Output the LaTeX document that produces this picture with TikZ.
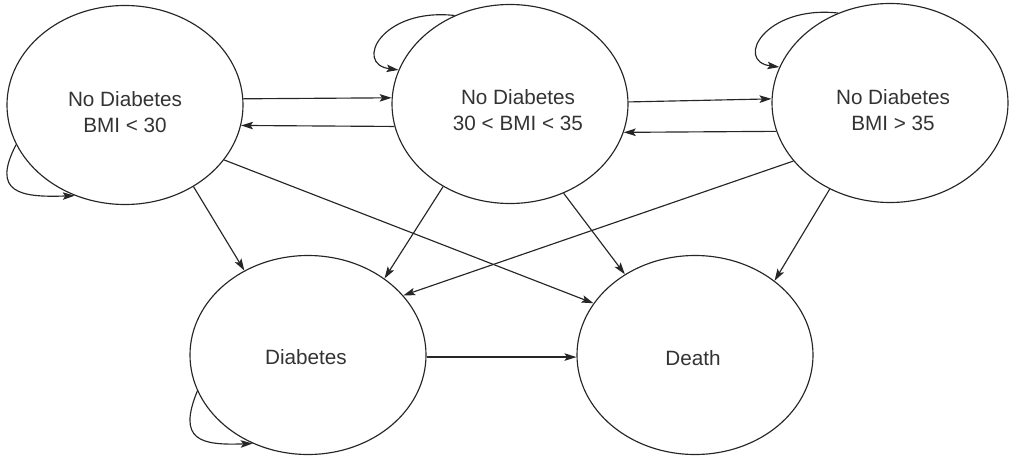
\documentclass[tikz,border=0pt]{standalone}
\usepackage{fontspec}
\setmainfont{Liberation Sans}
\usetikzlibrary{arrows.meta,shapes.geometric}
\begin{document}
\begin{tikzpicture}[x=1pt,y=-1pt,
  state/.style={ellipse, draw=black!85, line width=1.15pt, minimum width=236pt, minimum height=199pt, inner sep=0pt},
  lbl/.style={align=center, text=black!80, font=\fontsize{20.7}{26}\selectfont, inner sep=0pt},
  arr/.style={draw=black!85, line width=1.15pt, -{Stealth[length=12pt,width=7.5pt,inset=2.5pt]}},
]
\useasboundingbox (0,0) rectangle (1009,458);
\node[state] (n1) at (125,105) {};
\node[state] (n2) at (510,104) {};
\node[state] (n3) at (890,103) {};
\node[state] (dia) at (308,355) {};
\node[state] (dth) at (695,355) {};
\node[lbl] (l1) at (125,112) {No Diabetes\\BMI < 30};
\node[lbl] (l2) at (518,110.5) {No Diabetes\\30 < BMI < 35};
\node[lbl] (l3) at (893,110.5) {No Diabetes\\BMI > 35};
\node[lbl] (l4) at (306,357) {Diabetes};
\node[lbl] (l5) at (693,358) {Death};
% horizontal transitions
\draw[arr] (n1.3.4) -- (n2.177.1);
\draw[arr] (n2.191.3) -- (n1.-10.8);
\draw[arr] (n2.1.9) -- (n3.178.5);
\draw[arr] (n3.194.9) -- (n2.-14.4);
\draw[arr] (dia.-1) -- (dth.181);
% diagonal transitions
\draw[arr] (n1.-50.7) -- (dia.127.4);
\draw[arr] (n1.-29.2) -- (dth.153.2);
\draw[arr] (n2.231) -- (dia.45);
\draw[arr] (n2.-59.8) -- (dth.131.3);
\draw[arr] (n3.211) -- (dia.32.3);
\draw[arr] (n3.235.4) -- (dth.43.2);
% self loops
\draw[arr] (n1.200.9) .. controls +(-25,48) and +(-55,2) .. (n1.241);
\draw[arr] (n2.122) .. controls +(-73,-8) and +(-45,-6) .. (n2.163.5);
\draw[arr] (n3.120) .. controls +(-73,-8) and +(-45,-6) .. (n3.162);
\draw[arr] (dia.198) .. controls +(-20,49) and +(-53,2) .. (dia.238);
\end{tikzpicture}
\end{document}
